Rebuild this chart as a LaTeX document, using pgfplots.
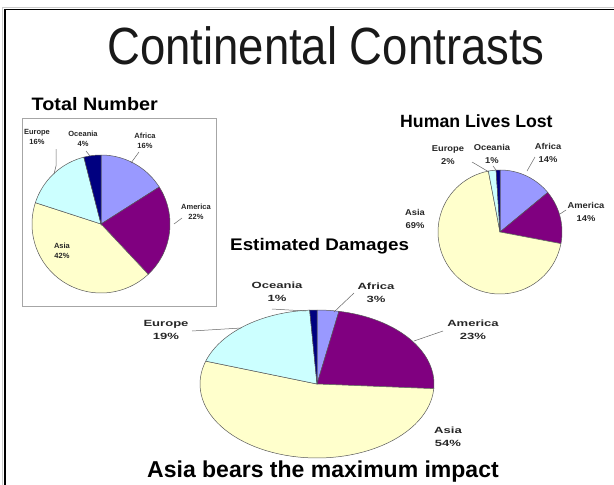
\documentclass[border=0pt]{standalone}
\usepackage{pgfplots}
\pgfplotsset{compat=1.18}
\usepackage{pgfplotstable}
\usepackage{fontspec}
\setmainfont{Liberation Sans}

\definecolor{cAfrica}{HTML}{9999FF}
\definecolor{cAmerica}{HTML}{800080}
\definecolor{cAsia}{HTML}{FFFFCC}
\definecolor{cEurope}{HTML}{CCFFFF}
\definecolor{cOceania}{HTML}{000080}

% Shares per continent, in percent
\pgfplotstableread{
continent total lives damages
Africa    16    14    3
America   22    14    23
Asia      42    69    54
Europe    16     2    19
Oceania    4     1     1
}\shares

% Draw one pie (column #1) centred at (#2,#3) with radii #4 and #5,
% slices running clockwise from 12 o'clock.
\newcommand\pieslices[5]{%
  \gdef\pieacc{0}%
  \foreach \r/\c in {0/cAfrica,1/cAmerica,2/cAsia,3/cEurope,4/cOceania}{%
    \pgfplotstablegetelem{\r}{#1}\of\shares
    \let\share\pgfplotsretval
    \pgfmathsetmacro\sa{3.6*\pieacc}%
    \pgfmathsetmacro\sb{3.6*(\pieacc+\share)}%
    \pgfmathsetmacro\nacc{\pieacc+\share}%
    \global\let\pieacc\nacc
    \edef\slicecmd{\noexpand\addplot[draw=black!65, line width=0.5pt, fill=\c,
        domain=\sa:\sb, samples=60, variable=\noexpand\t]
      ({#2+#4*sin(\noexpand\t)},{#3-#5*cos(\noexpand\t)}) -- (axis cs:#2,#3) -- cycle;}%
    \slicecmd
  }%
}

\tikzset{
  lblA/.style={font=\bfseries\fontsize{7.5}{10.5}\selectfont, align=center, text=black!85, inner sep=0pt},
  lblB/.style={font=\bfseries\fontsize{8.5}{12.5}\selectfont, align=center, text=black!85, inner sep=0pt, xscale=1.1, transform shape},
  lblC/.style={font=\bfseries\fontsize{9}{13}\selectfont, align=center, text=black!85, inner sep=0pt, xscale=1.45, transform shape},
  lead/.style={black!60, line width=0.5pt},
}

\begin{document}
\begin{tikzpicture}
\begin{axis}[
  scale only axis, width=614pt, height=485pt,
  xmin=0, xmax=614, ymin=0, ymax=485, y dir=reverse,
  axis lines=none, clip=false,
]
  % frame
  \draw[gray!40, line width=1pt] (axis cs:2.5,485) -- (axis cs:2.5,7) -- (axis cs:614,7);
  \draw[black, line width=1.6pt] (axis cs:5,485) -- (axis cs:5,9.5) -- (axis cs:614,9.5);

  % titles
  \node[anchor=base, font=\fontsize{45.5}{50}\selectfont, text=black!90, yscale=1.15, transform shape]
    at (axis cs:326,64) {Continental Contrasts};
  \node[anchor=base west, font=\bfseries\fontsize{18}{20}\selectfont, xscale=1.1, transform shape, inner sep=0pt]
    at (axis cs:31.5,110.5) {Total Number};
  \node[anchor=base west, font=\bfseries\fontsize{17.7}{20}\selectfont, inner sep=0pt]
    at (axis cs:400,127.5) {Human Lives Lost};
  \node[anchor=base west, font=\bfseries\fontsize{16.8}{20}\selectfont, xscale=1.12, transform shape, inner sep=0pt]
    at (axis cs:230,250) {Estimated Damages};
  \node[anchor=base, font=\bfseries\fontsize{23}{26}\selectfont, inner sep=0pt]
    at (axis cs:323,477) {Asia bears the maximum impact};

  % Total Number
  \draw[gray!70, line width=0.8pt] (axis cs:22,118) rectangle (axis cs:216,306);
  \pieslices{total}{101}{224}{69}{69}
  \draw[lead] (axis cs:56,149) -- (axis cs:56,166) -- (axis cs:54,174);
  \draw[lead] (axis cs:86,151) -- (axis cs:90,156);
  \draw[lead] (axis cs:139,152) -- (axis cs:131,163);
  \draw[lead] (axis cs:182,218) -- (axis cs:174,224);
  \node[lblA] at (axis cs:37,137) {Europe\\16\%};
  \node[lblA] at (axis cs:83,139) {Oceania\\4\%};
  \node[lblA] at (axis cs:145,141) {Africa\\16\%};
  \node[lblA] at (axis cs:196,212) {America\\22\%};
  \node[lblA] at (axis cs:62,251) {Asia\\42\%};

  % Human Lives Lost
  \pieslices{lives}{500}{232}{62}{62}
  \draw[lead] (axis cs:472,162) -- (axis cs:489,172);
  \draw[lead] (axis cs:493,166) -- (axis cs:496,170);
  \draw[lead] (axis cs:535,157) -- (axis cs:527,171);
  \draw[lead] (axis cs:566,210) -- (axis cs:560,214);
  \node[lblB] at (axis cs:448,155) {Europe\\2\%};
  \node[lblB] at (axis cs:492,154) {Oceania\\1\%};
  \node[lblB] at (axis cs:548,153) {Africa\\14\%};
  \node[lblB] at (axis cs:586,212) {America\\14\%};
  \node[lblB] at (axis cs:415,219) {Asia\\69\%};

  % Estimated Damages
  \pieslices{damages}{317}{384}{117}{74}
  \draw[lead] (axis cs:272,309) -- (axis cs:306,311);
  \draw[lead] (axis cs:354,293) -- (axis cs:334,312);
  \draw[lead] (axis cs:192,331) -- (axis cs:241,328);
  \draw[lead] (axis cs:443,331) -- (axis cs:414,341);
  \node[lblC] at (axis cs:277,292) {Oceania\\1\%};
  \node[lblC] at (axis cs:376,293) {Africa\\3\%};
  \node[lblC] at (axis cs:166,330) {Europe\\19\%};
  \node[lblC] at (axis cs:473,330) {America\\23\%};
  \node[lblC] at (axis cs:448,437) {Asia\\54\%};
\end{axis}
\pgfresetboundingbox
\useasboundingbox (0,0) rectangle (614pt,485pt);
\end{tikzpicture}
\end{document}
